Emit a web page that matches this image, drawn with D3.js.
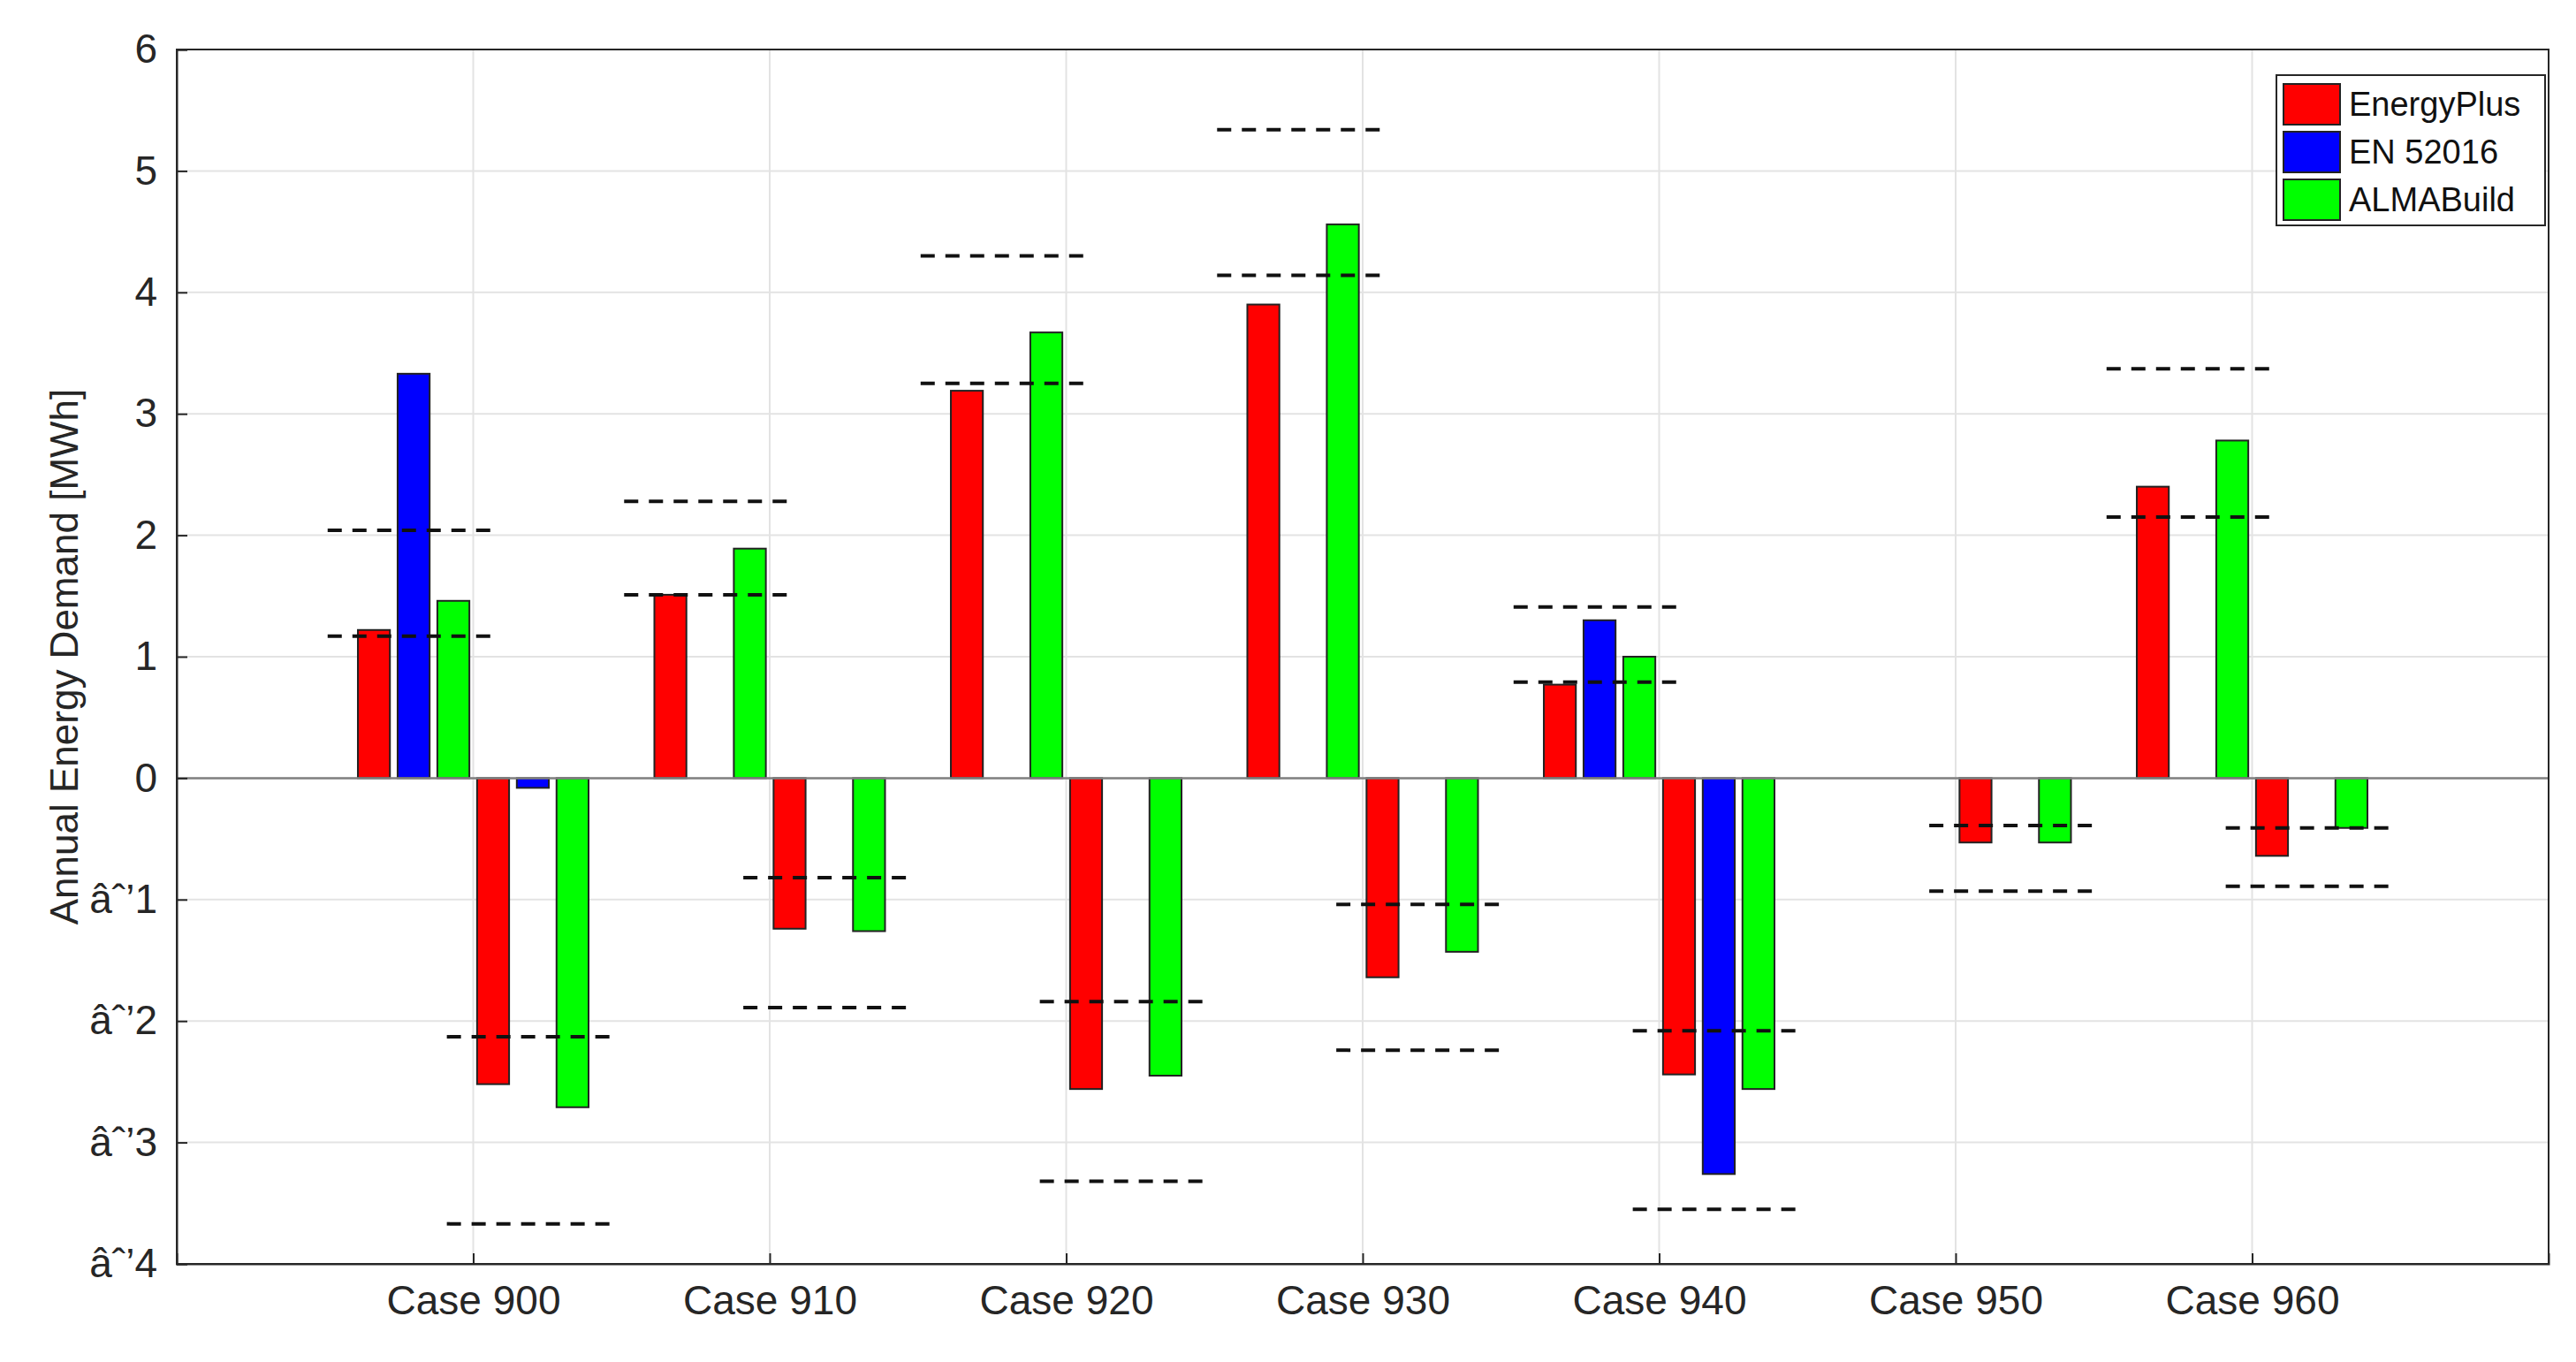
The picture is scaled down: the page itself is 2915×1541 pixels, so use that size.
<!DOCTYPE html>
<html>
<head>
  <script src="https://cdnjs.cloudflare.com/ajax/libs/d3/7.8.5/d3.min.js"></script>
  <style>
    body { margin: 0; background: #fff; }
    text { font-family: "Liberation Sans", Arial, sans-serif; }
  </style>
</head>
<body>
  <div id="chart"></div>
  <script>
    // Data (MWh)
    const cases = ["Case 900", "Case 910", "Case 920", "Case 930", "Case 940", "Case 950", "Case 960"];
    const series = ["EnergyPlus", "EN 52016", "ALMABuild"];
    const colors = ["#ff0000", "#0000ff", "#00ff00"];
    // heating (positive), null = not available
    const heating = [
      [1.22, 3.33, 1.46],
      [1.51, null, 1.89],
      [3.19, null, 3.67],
      [3.90, null, 4.56],
      [0.77, 1.30, 1.00],
      [null, null, null],
      [2.40, null, 2.78]
    ];
    // cooling (negative)
    const cooling = [
      [-2.52, -0.08, -2.71],
      [-1.24, null, -1.26],
      [-2.56, null, -2.45],
      [-1.64, null, -1.43],
      [-2.44, -3.26, -2.56],
      [-0.53, null, -0.53],
      [-0.64, null, -0.41]
    ];
    // reference ranges (min, max) shown as dashed lines
    const heatRange = [[1.17, 2.04], [1.51, 2.28], [3.25, 4.30], [4.14, 5.34], [0.79, 1.41], [null, null], [2.15, 3.37]];
    const coolRange = [[-2.13, -3.67], [-0.82, -1.89], [-1.84, -3.32], [-1.04, -2.24], [-2.08, -3.55], [-0.39, -0.93], [-0.41, -0.89]];
    const yTicks = [-4, -3, -2, -1, 0, 1, 2, 3, 4, 5, 6];

    const W = 2915, H = 1541;
    const margin = {top: 56, right: 31, bottom: 111, left: 200};
    const width = W - margin.left - margin.right;
    const height = H - margin.top - margin.bottom;

    const svg = d3.select("#chart").append("svg")
      .attr("width", W).attr("height", H)
      .append("g")
      .attr("transform", `translate(${margin.left},${margin.top})`);

    const x = d3.scaleLinear().domain([0, cases.length + 1]).range([0, width]);
    const y = d3.scaleLinear().domain([-4, 6]).range([height, 0]);

    const step = 0.134;          // spacing between bars (category units)
    const barW = x(0.108) - x(0);
    const slot = [-2.5, -1.5, -0.5, 0.5, 1.5, 2.5];

    // grid
    svg.append("g").selectAll("line").data(yTicks).join("line")
      .attr("x1", 0).attr("x2", width)
      .attr("y1", d => y(d)).attr("y2", d => y(d))
      .attr("stroke", "#e3e3e3").attr("stroke-width", 2);
    svg.append("g").selectAll("line").data(cases).join("line")
      .attr("x1", (d, i) => x(i + 1)).attr("x2", (d, i) => x(i + 1))
      .attr("y1", 0).attr("y2", height)
      .attr("stroke", "#e3e3e3").attr("stroke-width", 2);

    // bars
    const bars = [];
    cases.forEach((c, i) => {
      heating[i].forEach((v, s) => { if (v !== null) bars.push({i, s, v, k: s}); });
      cooling[i].forEach((v, s) => { if (v !== null) bars.push({i, s, v, k: s + 3}); });
    });
    svg.append("g").selectAll("rect").data(bars).join("rect")
      .attr("x", d => x(d.i + 1 + slot[d.k] * step) - barW / 2)
      .attr("width", barW)
      .attr("y", d => y(Math.max(0, d.v)))
      .attr("height", d => Math.abs(y(d.v) - y(0)))
      .attr("fill", d => colors[d.s])
      .attr("stroke", "#222").attr("stroke-width", 2);

    // zero line
    svg.append("line")
      .attr("x1", 0).attr("x2", width).attr("y1", y(0)).attr("y2", y(0))
      .attr("stroke", "#808080").attr("stroke-width", 2.5);

    // dashed range lines
    const dashes = [];
    cases.forEach((c, i) => {
      heatRange[i].forEach(v => { if (v !== null) dashes.push({c: i + 1 - 1.5 * step, v}); });
      coolRange[i].forEach(v => { if (v !== null) dashes.push({c: i + 1 + 1.5 * step, v}); });
    });
    svg.append("g").selectAll("line").data(dashes).join("line")
      .attr("x1", d => x(d.c - 0.29)).attr("x2", d => x(d.c + 0.29))
      .attr("y1", d => y(d.v)).attr("y2", d => y(d.v))
      .attr("stroke", "#111").attr("stroke-width", 4)
      .attr("stroke-dasharray", "16,12");

    // axes
    const yAxis = svg.append("g")
      .call(d3.axisLeft(y).tickValues(yTicks).tickSize(-12).tickPadding(22).tickFormat(d3.format("d")));
    const xAxis = svg.append("g").attr("transform", `translate(0,${height})`)
      .call(d3.axisBottom(x).tickValues(d3.range(1, cases.length + 1)).tickSize(-12).tickPadding(24)
        .tickFormat(d => cases[d - 1]));
    [yAxis, xAxis].forEach(a => {
      a.select(".domain").attr("stroke", "#262626").attr("stroke-width", 2);
      a.selectAll(".tick line").attr("stroke", "#262626").attr("stroke-width", 2);
      a.selectAll("text").attr("font-size", 46).attr("fill", "#262626")
        .attr("font-family", "Liberation Sans, Arial, sans-serif");
    });
    svg.append("rect").attr("width", width).attr("height", height)
      .attr("fill", "none").attr("stroke", "#262626").attr("stroke-width", 2);

    svg.append("text")
      .attr("transform", "rotate(-90)")
      .attr("x", -height / 2).attr("y", -112)
      .attr("text-anchor", "middle")
      .attr("font-size", 44).attr("fill", "#262626")
      .text("Annual Energy Demand [MWh]");

    // legend
    const lg = svg.append("g").attr("transform", `translate(${width - 308},${29})`);
    lg.append("rect").attr("width", 304).attr("height", 170)
      .attr("fill", "#fff").attr("stroke", "#262626").attr("stroke-width", 2);
    series.forEach((s, k) => {
      const row = lg.append("g").attr("transform", `translate(8,${10 + k * 54})`);
      row.append("rect").attr("width", 64).attr("height", 46)
        .attr("fill", colors[k]).attr("stroke", "#222").attr("stroke-width", 2);
      row.append("text").attr("x", 74).attr("y", 36)
        .attr("font-size", 38).attr("fill", "#111").text(s);
    });
  </script>
</body>
</html>
